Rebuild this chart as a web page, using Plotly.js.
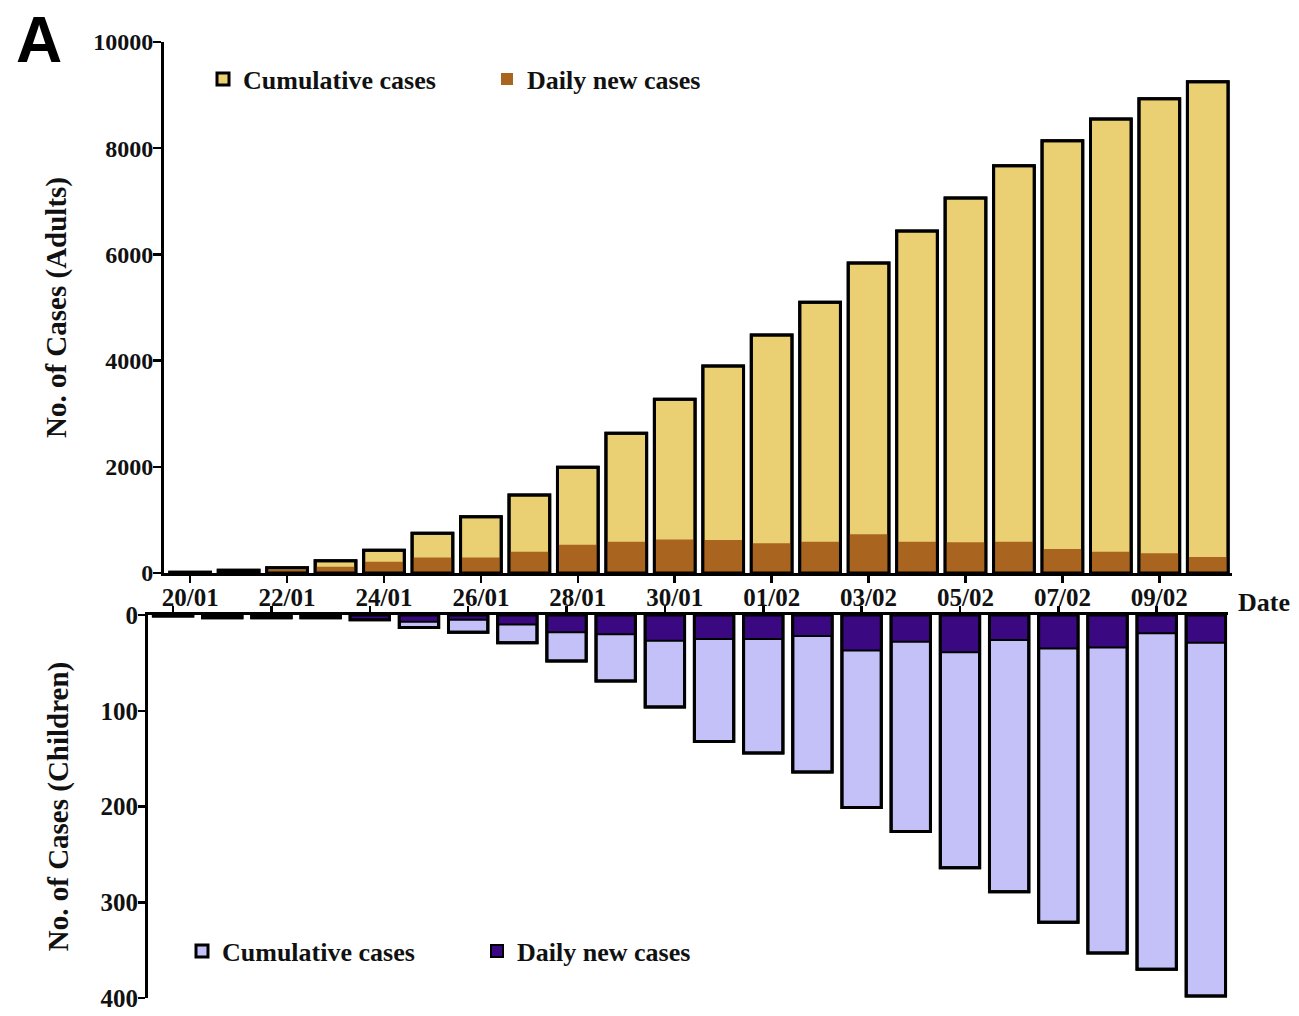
<!DOCTYPE html>
<html>
<head>
<meta charset="utf-8">
<script src="https://cdn.plot.ly/plotly-3.0.1.min.js"></script>
<style>html,body{margin:0;padding:0;background:#fff;}#chart{width:1299px;height:1016px;}</style>
</head>
<body>
<div id="chart"></div>
<script>
// ---- data ----
const dates = ['20/01','21/01','22/01','23/01','24/01','25/01','26/01','27/01','28/01','29/01','30/01','31/01',
               '01/02','02/02','03/02','04/02','05/02','06/02','07/02','08/02','09/02','10/02'];
const tickDates = ['20/01','22/01','24/01','26/01','28/01','30/01','01/02','03/02','05/02','07/02','09/02'];
const adultsCumulative = [15, 50, 100, 230, 430, 750, 1060, 1470, 1990, 2630, 3270, 3900,
                          4480, 5100, 5840, 6440, 7060, 7670, 8140, 8550, 8930, 9250];
const adultsDaily = [15, 35, 60, 120, 210, 290, 290, 400, 530, 590, 630, 620,
                     560, 590, 730, 590, 580, 590, 450, 400, 370, 300];
const childrenCumulative = [1, 3, 3, 3, 5, 13, 18, 29, 48, 69, 96, 132,
                            144, 164, 201, 226, 264, 289, 321, 353, 370, 398];
const childrenDaily = [1, 3, 3, 3, 5, 7, 5, 10, 18, 20, 27, 25,
                       25, 22, 37, 28, 39, 26, 35, 34, 19, 29];
const seriesNames = ['Cumulative cases', 'Daily new cases'];
const adultTicks = [0, 2000, 4000, 6000, 8000, 10000];
const adultTickLabels = ['0', '2000', '4000', '6000', '8000', '10000'];
const childTicks = [0, 100, 200, 300, 400];
const childTickLabels = ['0', '100', '200', '300', '400'];

// ---- styling ----
const W = 1299, H = 1016;
const serif = 'Liberation Serif, Times New Roman, serif';
const tickFont = {family: serif, size: 24, color: '#111', weight: 'bold'};
const legFont = {family: serif, size: 26, color: '#111', weight: 'bold'};
const titleFont = {family: serif, size: 29, color: '#111', weight: 'bold'};
const YELLOW = '#ebd073', ORANGE = '#a9651f', LAV = '#c4c0f8', INDIGO = '#3a0880';

const traces = [
  {type: 'bar', x: dates, y: adultsCumulative, name: seriesNames[0], width: 0.84,
   marker: {color: YELLOW, line: {color: '#000', width: 3}}, xaxis: 'x', yaxis: 'y', legend: 'legend'},
  {type: 'bar', x: dates, y: adultsDaily, name: seriesNames[1], width: 0.84,
   marker: {color: ORANGE, line: {width: 0}}, xaxis: 'x', yaxis: 'y', legend: 'legend'},
  {type: 'bar', x: dates, y: adultsCumulative, name: 'outline', showlegend: false, width: 0.84,
   marker: {color: 'rgba(0,0,0,0)', line: {color: '#000', width: 3}}, xaxis: 'x', yaxis: 'y'},
  {type: 'bar', x: dates, y: childrenCumulative, name: seriesNames[0], width: 0.8,
   marker: {color: LAV, line: {color: '#000', width: 3}}, xaxis: 'x2', yaxis: 'y2', legend: 'legend2'},
  {type: 'bar', x: dates, y: childrenDaily, name: seriesNames[1], width: 0.8,
   marker: {color: INDIGO, line: {color: '#000', width: 2}}, xaxis: 'x2', yaxis: 'y2', legend: 'legend2'},
  {type: 'bar', x: dates, y: childrenCumulative, name: 'outline', showlegend: false, width: 0.8,
   marker: {color: 'rgba(0,0,0,0)', line: {color: '#000', width: 3}}, xaxis: 'x2', yaxis: 'y2'}
];

const py = v => (H - v) / H;
const layout = {
  width: W, height: H,
  margin: {l: 0, r: 0, t: 0, b: 0},
  paper_bgcolor: '#fff', plot_bgcolor: 'rgba(0,0,0,0)',
  barmode: 'overlay', bargap: 0.15,
  showlegend: true,
  xaxis: {
    domain: [164 / W, 1232 / W], anchor: 'y', type: 'category', range: [-0.54, 21.5],
    showline: true, linecolor: '#000', linewidth: 3, showgrid: false, zeroline: false,
    ticks: 'outside', ticklen: 7, tickwidth: 2.5, tickcolor: '#000',
    tickmode: 'array', tickvals: tickDates, ticktext: tickDates,
    tickfont: {family: serif, size: 25, color: '#111', weight: 'bold'},
    ticklabelstandoff: -7, automargin: false
  },
  yaxis: {
    domain: [py(573), py(42)], anchor: 'x', range: [0, 10000],
    showline: true, linecolor: '#000', linewidth: 3, showgrid: false, zeroline: false,
    ticks: 'outside', ticklen: 8, tickwidth: 2.5, tickcolor: '#000',
    tickmode: 'array', tickvals: adultTicks, ticktext: adultTickLabels, tickfont: tickFont,
    ticklabelstandoff: -5, automargin: false,
    title: {text: 'No. of Cases (Adults)', font: titleFont, standoff: 19}
  },
  xaxis2: {
    domain: [148 / W, 1228 / W], anchor: 'y2', type: 'category', range: [-0.51, 21.45], side: 'top',
    showline: true, linecolor: '#000', linewidth: 3, showgrid: false, zeroline: false,
    ticks: 'outside', ticklen: 6, tickwidth: 2.5, tickcolor: '#000',
    tickmode: 'array', tickvals: tickDates, showticklabels: false, automargin: false
  },
  yaxis2: {
    domain: [py(998), py(615)], anchor: 'x2', range: [400, 0],
    showline: true, linecolor: '#000', linewidth: 3, showgrid: false, zeroline: false,
    ticks: 'outside', ticklen: 7, tickwidth: 2.5, tickcolor: '#000',
    tickmode: 'array', tickvals: childTicks, ticktext: childTickLabels,
    tickfont: {family: serif, size: 25, color: '#111', weight: 'bold'},
    ticklabelstandoff: -5, automargin: false,
    title: {text: 'No. of Cases (Children)', font: titleFont, standoff: 24}
  },
  legend: {
    orientation: 'h', x: 203 / W, xanchor: 'left', y: py(79), yanchor: 'middle',
    font: legFont, bgcolor: 'rgba(0,0,0,0)', traceorder: 'normal',
    entrywidth: 239, entrywidthmode: 'pixels', itemwidth: 30
  },
  legend2: {
    orientation: 'h', x: 182 / W, xanchor: 'left', y: py(951), yanchor: 'middle',
    font: legFont, bgcolor: 'rgba(0,0,0,0)', traceorder: 'normal',
    entrywidth: 250, entrywidthmode: 'pixels', itemwidth: 30
  },
  annotations: [
    {text: 'A', xref: 'paper', yref: 'paper', x: 39 / W, y: py(40), xanchor: 'center', yanchor: 'middle',
     showarrow: false, font: {family: 'Liberation Sans, Arial, sans-serif', size: 64, color: '#000', weight: 'bold'}},
    {text: 'Date', xref: 'paper', yref: 'paper', x: 1264 / W, y: py(602), xanchor: 'center', yanchor: 'middle',
     showarrow: false, font: legFont}
  ]
};

Plotly.newPlot('chart', traces, layout, {staticPlot: true, displayModeBar: false});
</script>
</body>
</html>
